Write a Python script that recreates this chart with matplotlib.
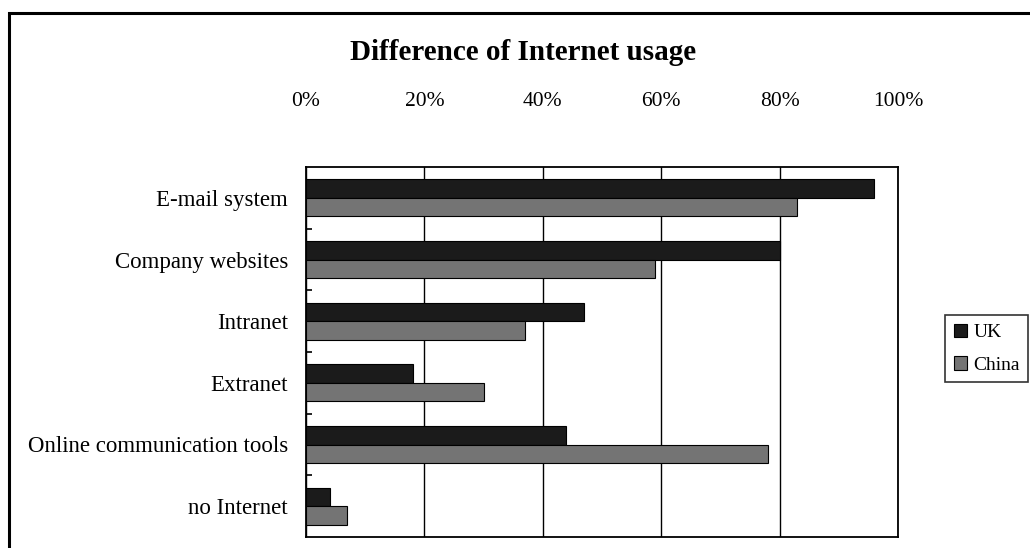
import numpy as np
import matplotlib
matplotlib.use("Agg")
import matplotlib.pyplot as plt
from matplotlib.patches import Rectangle
from matplotlib.ticker import FuncFormatter

categories = ["E-mail system", "Company websites", "Intranet", "Extranet",
              "Online communication tools", "no Internet"]
uk = [96, 80, 47, 18, 44, 4]
china = [83, 59, 37, 30, 78, 7]
series_names = ["UK", "China"]
x_ticks = [0, 20, 40, 60, 80, 100]

plt.rcParams["font.family"] = ["Liberation Serif", "DejaVu Serif"]

fig = plt.figure(figsize=(10.3, 5.48), dpi=100)
ax = fig.add_axes([306 / 1030, 11 / 548, 592 / 1030, 370 / 548])

y = np.arange(len(categories))
h = 0.3
ax.barh(y - h / 2, uk, height=h, color="#1b1b1b", edgecolor="black", linewidth=0.8,
        label=series_names[0], zorder=3)
ax.barh(y + h / 2, china, height=h, color="#747474", edgecolor="black", linewidth=0.8,
        label=series_names[1], zorder=3)

ax.set_xlim(0, 100)
ax.set_ylim(len(categories) - 0.5, -0.5)
ax.set_xticks(x_ticks)
ax.xaxis.set_major_formatter(FuncFormatter(lambda v, p: f"{v:.0f}%"))
ax.xaxis.tick_top()
ax.tick_params(axis="x", length=0, pad=40, labelsize=15.5)
ax.grid(axis="x", color="black", linewidth=1.0, zorder=1)

ax.set_yticks(y)
ax.set_yticklabels(categories)
ax.tick_params(axis="y", which="major", length=0, pad=13, labelsize=16.5)
ax.set_yticks(np.arange(0.5, len(categories) - 0.5, 1.0), minor=True)
ax.tick_params(axis="y", which="minor", direction="in", length=4, width=1.2)

for s in ax.spines.values():
    s.set_color("black")
    s.set_linewidth(1.3)

fig.text(523 / 1030, 1 - 53 / 548, "Difference of Internet usage", ha="center", va="center",
         fontsize=21, fontweight="bold")

leg = fig.legend(loc="upper left", bbox_to_anchor=(945 / 1030, 1 - 315 / 548),
                 frameon=True, fancybox=False, edgecolor="black", fontsize=14,
                 handlelength=0.7, handleheight=0.7, handletextpad=0.3,
                 borderpad=0.45, labelspacing=0.75, borderaxespad=0)
leg.get_frame().set_linewidth(1.2)

# outer frame of the chart area (runs off the right and bottom edges)
fig.patches.append(Rectangle((9 / 1030, -0.05), 1.1, 1 - 13 / 548 + 0.05,
                             transform=fig.transFigure, fill=False,
                             edgecolor="black", linewidth=2.2))

fig.savefig("out.png", dpi=100)
